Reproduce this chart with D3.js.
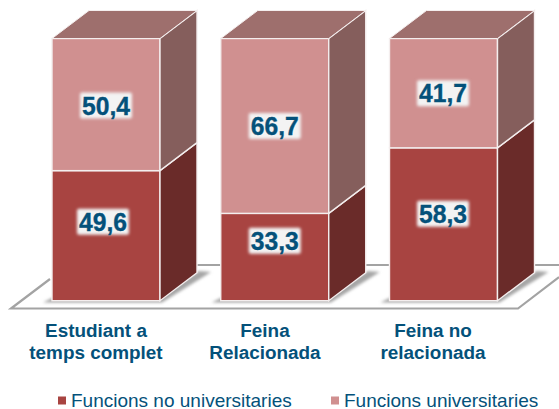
<!DOCTYPE html>
<html><head><meta charset="utf-8">
<script src="https://cdn.jsdelivr.net/npm/d3@7/dist/d3.min.js"></script>
<style>html,body{margin:0;padding:0;background:#fff}svg{display:block}text{font-family:"Liberation Sans",Arial,sans-serif}</style>
</head><body><div id="c"></div>
<script>
const categories=[["Estudiant a","temps complet"],["Feina","Relacionada"],["Feina no","relacionada"]];
const seriesNames=["Funcions no universitaries","Funcions universitaries"];
const noUniv=[49.6,33.3,58.3];
const univ=[50.4,66.7,41.7];
const W=559,H=409;
const svg=d3.select("#c").append("svg").attr("width",W).attr("height",H);
const defs=svg.append("defs");
const blur=defs.append("filter").attr("id","glow").attr("x","-30%").attr("y","-30%").attr("width","160%").attr("height","160%");
blur.append("feGaussianBlur").attr("stdDeviation",1.5);
const sb=defs.append("filter").attr("id","sb").attr("x","-20%").attr("y","-50%").attr("width","140%").attr("height","200%");
sb.append("feGaussianBlur").attr("stdDeviation",1.6);
const xs=d3.scalePoint().domain(d3.range(3)).range([52,389.5]);
const bw=108;
const y=d3.scaleLinear().domain([0,100]).range([300.7,38.5]);
const dx=37,dy=-28;
const colors={front:["#a84441","#d09090"],side:["#6a2b29","#855e5c"],top:["#9e6f6d","#9e6f6d"]};
// label nudges relative to the segment centre, [bar][series]
const nudgeX=[[-3,0],[0,0],[0,0]];
const nudgeY=[[-15,0],[-17.3,-1],[-11.5,-1]];
const floor=svg.append("g");
floor.append("path").attr("d",d3.line()([[50,279],[11,308.5],[518,308.5],[559,277]])).attr("fill","none").attr("stroke","#a3a3a3").attr("stroke-width",2.2);
floor.append("path").attr("d",d3.line()([[160,265],[559,265]])).attr("fill","none").attr("stroke","#a3a3a3").attr("stroke-width",2);
d3.range(3).forEach(i=>{
  const l=xs(i),r=l+bw;
  floor.append("path").attr("d",d3.line()([[l-9,302.5],[r+2,302.5],[r+dx+14,272],[r+dx+2,271],[r,296],[l,298]])+"Z").attr("fill","#a5a5a5").attr("filter","url(#sb)");
});
const g=svg.append("g");
const stack=[noUniv,univ];
d3.range(3).forEach(i=>{
  const l=xs(i),r=l+bw;
  let base=0;
  stack.forEach((vals,s)=>{
    const b=y(base),t=y(base+vals[i]);
    g.append("rect").attr("x",l).attr("y",t).attr("width",bw).attr("height",b-t).attr("fill",colors.front[s]).attr("stroke","#f4eeee").attr("stroke-width",1.4);
    g.append("path").attr("d",d3.line()([[r,t],[r+dx,t+dy],[r+dx,b+dy],[r,b]])+"Z").attr("fill",colors.side[s]).attr("stroke","#f4eeee").attr("stroke-width",1.4);
    if(s===1) g.append("path").attr("d",d3.line()([[l,t],[l+dx,t+dy],[r+dx,t+dy],[r,t]])+"Z").attr("fill",colors.top[s]).attr("stroke","#f4eeee").attr("stroke-width",1);
    base+=vals[i];
  });
});
const lab=svg.append("g");
d3.range(3).forEach(i=>{
  const c0=xs(i)+bw/2+(i===2?-0.5:0);
  let base=0;
  stack.forEach((vals,s)=>{
    const v=vals[i];
    const cx=c0+nudgeX[i][s];
    const cy=y(base+v/2)+nudgeY[i][s];
    const str=d3.format(".1f")(v).replace(".",",");
    lab.append("rect").attr("x",cx-26).attr("y",cy-12).attr("width",52).attr("height",26).attr("rx",2).attr("fill","#f3f3f3").attr("filter","url(#glow)");
    lab.append("text").attr("x",cx).attr("y",cy+10).attr("text-anchor","middle").attr("font-size",25.5).attr("font-weight","bold").attr("fill","#04517a").attr("stroke","#04517a").attr("stroke-width",0.35).attr("textLength",48).attr("lengthAdjust","spacingAndGlyphs").text(str);
    base+=v;
  });
});
const catCx=[96,265,433];
categories.forEach((c,i)=>c.forEach((t,j)=>{
  svg.append("text").attr("x",catCx[i]).attr("y",337+j*21.5).attr("text-anchor","middle").attr("font-size",18.9).attr("font-weight","bold").attr("fill","#04517a").text(t);
}));
const legX=[58,331];
seriesNames.forEach((n,i)=>{
  svg.append("rect").attr("x",legX[i]).attr("y",396.5).attr("width",8).attr("height",8).attr("fill",colors.front[i]);
  svg.append("text").attr("x",legX[i]+13).attr("y",406.5).attr("font-size",19).attr("fill","#04517a").text(n);
});
</script></body></html>
